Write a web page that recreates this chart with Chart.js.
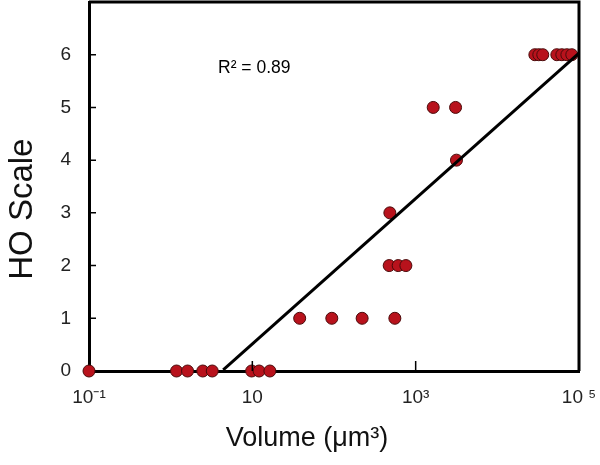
<!DOCTYPE html>
<html>
<head>
<meta charset="utf-8">
<script src="https://cdn.jsdelivr.net/npm/chart.js@4/dist/chart.umd.min.js"></script>
<style>
  html,body{margin:0;padding:0;background:#fff;}
  #wrap{width:600px;height:465px;}
</style>
</head>
<body>
<div id="wrap"><canvas id="c" width="600" height="465"></canvas></div>
<script>
// Volume (µm³) and HO scale values
const volumes = [0.1, 1.18, 1.61, 2.47, 3.23, 9.8, 12.1, 16.4,
                 38, 94, 221, 556,
                 474, 611, 759,
                 483,
                 3160,
                 1640, 3080,
                 28800, 32200, 36000, 53500, 61600, 71000, 81600];
const hoScale = [0, 0, 0, 0, 0, 0, 0, 0,
                 1, 1, 1, 1,
                 2, 2, 2,
                 3,
                 4,
                 5, 5,
                 6, 6, 6, 6, 6, 6, 6];
// Fitted trendline end values
const trendX = [4.4, 100000];
const trendY = [0.02, 6.03];
const rSquared = '0.89';
const xTitle = 'Volume (μm³)';
const yTitle = 'HO Scale';
const xTickValues = [0.1, 10, 1000, 100000];
const xTickLabels = ['10⁻¹', '10', '10³', '10 ⁵'];
const yTickValues = [0, 1, 2, 3, 4, 5, 6];

const points = volumes.map((v, i) => ({x: v, y: hoScale[i]}));
const trend = trendX.map((v, i) => ({x: v, y: trendY[i]}));

const FONT = 'Liberation Sans, Arial, sans-serif';

const zeroPad = s => { s.paddingTop = 0; s.paddingBottom = 0; s.paddingLeft = 0; s.paddingRight = 0; };

const decor = {
  id: 'decor',
  afterDatasetsDraw(chart) {
    const {ctx, chartArea: a, scales: {x, y}} = chart;
    ctx.save();
    ctx.strokeStyle = '#000';
    ctx.lineWidth = 3;
    ctx.beginPath();
    ctx.moveTo(a.left, a.top);
    ctx.lineTo(a.right, a.top);
    ctx.lineTo(a.right, a.bottom);
    ctx.stroke();
    ctx.lineWidth = 1.5;
    ctx.beginPath();
    yTickValues.forEach(v => {
      if (v === 0) return;
      const py = y.getPixelForValue(v);
      ctx.moveTo(a.left, py); ctx.lineTo(a.left + 7, py);
    });
    [10, 1000].forEach(v => {
      const px = x.getPixelForValue(v);
      ctx.moveTo(px, a.bottom); ctx.lineTo(px, a.bottom - 10);
    });
    ctx.stroke();
    ctx.fillStyle = '#000';
    ctx.font = '17.5px ' + FONT;
    ctx.textAlign = 'left';
    ctx.textBaseline = 'middle';
    ctx.fillText('R² = ' + rSquared, x.getPixelForValue(3.8), y.getPixelForValue(5.75));

    // axis titles
    ctx.fillStyle = '#111';
    ctx.textAlign = 'center';
    ctx.font = '27px ' + FONT;
    ctx.fillText(xTitle, x.getPixelForValue(Math.pow(10, 1.67)), a.bottom + 68);
    ctx.save();
    ctx.font = '33px ' + FONT;
    ctx.translate(a.left - 66, y.getPixelForValue(3.07));
    ctx.rotate(-Math.PI / 2);
    ctx.fillText(yTitle, 0, 0);
    ctx.restore();
    ctx.restore();
  }
};

new Chart(document.getElementById('c'), {
  data: {
    datasets: [
      {
        type: 'scatter',
        data: points,
        pointRadius: 6,
        pointHoverRadius: 6,
        pointBackgroundColor: '#b8121c',
        pointBorderColor: '#4a0a0a',
        pointBorderWidth: 1,
        order: 2
      },
      {
        type: 'line',
        data: trend,
        borderColor: '#000',
        borderWidth: 3,
        pointRadius: 0,
        fill: false,
        order: 1
      }
    ]
  },
  options: {
    responsive: false,
    animation: false,
    clip: false,
    layout: {autoPadding: false, padding: {top: 2, right: 21, left: 0, bottom: 0}},
    plugins: {legend: {display: false}, tooltip: {enabled: false}},
    scales: {
      x: {
        type: 'logarithmic',
        min: 0.1,
        max: 100000,
        afterBuildTicks: s => { s.ticks = xTickValues.map(v => ({value: v})); },
        afterFit: s => { s.height = 94; zeroPad(s); },
        ticks: {
          callback: (v) => { const i = xTickValues.indexOf(v); return i >= 0 ? xTickLabels[i] : ''; },
          color: '#222',
          font: {family: FONT, size: 19},
          padding: 15,
          maxRotation: 0,
          autoSkip: false
        },
        grid: {display: false, drawTicks: false},
        border: {color: '#000', width: 3}
      },
      y: {
        min: 0,
        max: 7,
        afterBuildTicks: s => { s.ticks = yTickValues.map(v => ({value: v})); },
        afterFit: s => { s.width = 89; zeroPad(s); },
        ticks: {
          color: '#222',
          font: {family: FONT, size: 19},
          padding: 18
        },
        grid: {display: false, drawTicks: false},
        border: {color: '#000', width: 3}
      }
    }
  },
  plugins: [decor]
});
</script>
</body>
</html>
